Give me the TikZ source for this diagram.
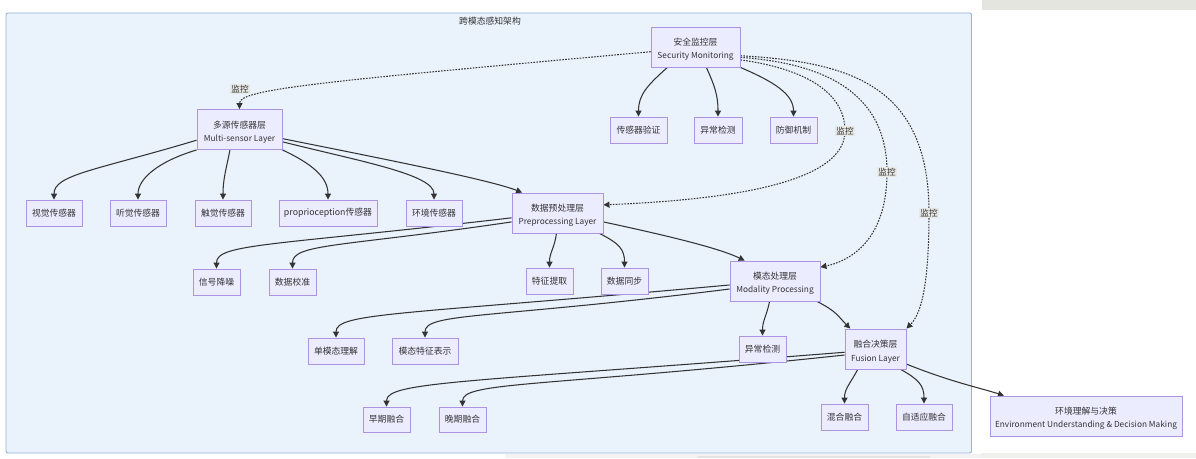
\documentclass[tikz,border=0pt]{standalone}
\usepackage{fontspec}
\setmainfont{Noto Sans CJK SC}
\usetikzlibrary{arrows.meta}
\definecolor{nodefill}{HTML}{ECECFF}
\definecolor{nodeborder}{HTML}{AE93E3}
\definecolor{edgec}{HTML}{333333}
\definecolor{txt}{HTML}{333333}
\definecolor{clfill}{HTML}{EAF2FC}
\definecolor{clborder}{HTML}{93B4D8}
\definecolor{labbg}{HTML}{E8E8E5}
\definecolor{stripc}{HTML}{E5E5E0}
\newcommand{\en}[1]{{\fontsize{8.3}{12}\selectfont #1}}
\newcommand{\topstrut}{\rule{0pt}{12.5pt}}
\pgfdeclarelayer{bglayer}
\pgfdeclarelayer{edgelayer}
\pgfsetlayers{bglayer,edgelayer,main}
\begin{document}
\begin{tikzpicture}[x=1pt,y=-1pt,
  box/.style={draw=nodeborder, fill=nodefill, line width=0.9pt, minimum height=26pt,
    inner sep=0pt, font=\fontsize{8.8}{12}\selectfont, text=txt, align=center},
  bw/.style={minimum width=#1},
  twol/.style={minimum height=40pt},
  conn/.style={draw=edgec, line width=1.05pt, -{Triangle[width=6pt,length=6pt]}},
  mon/.style={conn, dash pattern=on 1.6pt off 1.3pt},
  lab/.style={fill=labbg, inner sep=1.2pt, font=\fontsize{8.6}{10}\selectfont, text=txt}]
\useasboundingbox (0,0) rectangle (1196,458);
\begin{pgfonlayer}{bglayer}
\fill[white] (0,0) rectangle (1196,458);
\fill[stripc] (982,0) rectangle (1196,10);
\fill[stripc!60!white] (982,453) rectangle (1196,458);
\fill[black!5] (505,454) rectangle (982,458);
\fill[black!11] (698,456) rectangle (930,458);
\draw[fill=clfill, draw=clborder, line width=0.9pt, rounded corners=2pt] (6,13) rectangle (971.5,453);
\end{pgfonlayer}
\node[font=\fontsize{8.8}{10}\selectfont, text=txt] (title) at (490,21) {跨模态感知架构};

% nodes
\node[box,bw=85pt,twol] (ms) at (239.5,129.5) {\topstrut 多源传感器层\\[1.5pt]\en{Multi-sensor Layer}};
\node[box,bw=56pt] (vis) at (54,213) {视觉传感器};
\node[box,bw=56pt] (aud) at (138,213) {听觉传感器};
\node[box,bw=56pt] (tac) at (223,213) {触觉传感器};
\node[box,bw=98pt] (pro) at (328,213) {proprioception传感器};
\node[box,bw=56pt] (env) at (434,213) {环境传感器};
\node[box,bw=91pt,twol] (pre) at (557.5,213) {\topstrut 数据预处理层\\[1.5pt]\en{Preprocessing Layer}};
\node[box,bw=89pt,twol] (sec) at (695.5,47) {\topstrut 安全监控层\\[1.5pt]\en{Security Monitoring}};
\node[box,bw=57pt] (sv) at (638.5,130) {传感器验证};
\node[box,bw=48pt] (ad1) at (718,130) {异常检测};
\node[box,bw=47pt] (def) at (793.5,130) {防御机制};
\node[box,bw=47pt] (sn) at (216.5,282) {信号降噪};
\node[box,bw=47pt] (dc) at (292.5,282) {数据校准};
\node[box,bw=47pt] (fe) at (549.5,281) {特征提取};
\node[box,bw=47pt] (ds) at (624.5,281) {数据同步};
\node[box,bw=90pt,twol] (mod) at (775,281) {\topstrut 模态处理层\\[1.5pt]\en{Modality Processing}};
\node[box,bw=56pt] (sm) at (336,351) {单模态理解};
\node[box,bw=66pt] (mf) at (425,351) {模态特征表示};
\node[box,bw=47pt] (ad2) at (762.5,349) {异常检测};
\node[box,bw=61pt,twol] (fu) at (875.5,349) {\topstrut 融合决策层\\[1.5pt]\en{Fusion Layer}};
\node[box,bw=47pt,minimum height=25pt] (ef) at (386.5,419.5) {早期融合};
\node[box,bw=47pt,minimum height=25pt] (lf) at (462.5,419.5) {晚期融合};
\node[box,bw=47pt] (mix) at (844.5,417) {混合融合};
\node[box,bw=56pt] (ada) at (924,417) {自适应融合};
\node[box,bw=192pt,twol] (out) at (1086,416) {\topstrut 环境理解与决策\\[1.5pt]\en{Environment Understanding \& Decision Making}};

% label positions
\coordinate (l0) at (240,89);
\coordinate (l1) at (845,131);
\coordinate (l2) at (887,172);
\coordinate (l3) at (929,213);

\begin{pgfonlayer}{edgelayer}
% multi-sensor layer
\draw[conn] (ms.194) .. controls +(-100,30) and +(0,-25) .. (vis.north);
\draw[conn] (ms.south west) .. controls +(-40,12) and +(0,-20) .. (aud.north);
\draw[conn] (ms.-115) .. controls +(-4,20) and +(0,-20) .. (tac.north);
\draw[conn] (ms.south east) .. controls +(30,14) and +(0,-22) .. (pro.north);
\draw[conn] (ms.-16) .. controls +(80,20) and +(0,-25) .. (env.north);
\draw[conn] (ms.-12) .. controls +(110,22) and +(-30,-12) .. (pre.150);
% security
\draw[conn] (sec.216) .. controls +(-20,18) and +(0,-22) .. (sv.north);
\draw[conn] (sec.-62) .. controls +(8,18) and +(0,-22) .. (ad1.north);
\draw[conn] (sec.south east) .. controls +(35,15) and +(0,-22) .. (def.north);
\draw[mon] (sec.186) .. controls +(-330,30) and +(0,-20) .. (ms.north);
\draw[mon] (sec.-16) .. controls (800,68) and (845,90) .. (l1) .. controls (845,185) and (720,200) .. (pre.10);
\draw[mon] (sec.-13) .. controls (820,63) and (887,90) .. (l2) .. controls (887,245) and (845,262) .. (mod.17);
\draw[mon] (sec.-11) .. controls (850,62) and (929,85) .. (l3) .. controls (929,290) and (920,315) .. (fu.north east);
% preprocessing
\draw[conn] (pre.186) .. controls +(-240,28) and +(0,-25) .. (sn.north);
\draw[conn] (pre.191) .. controls +(-170,25) and +(0,-25) .. (dc.north);
\draw[conn] (pre.-93) .. controls +(-2,15) and +(0,-15) .. (fe.north);
\draw[conn] (pre.-26) .. controls +(20,10) and +(0,-18) .. (ds.north);
\draw[conn] (pre.-11) .. controls +(70,15) and +(-25,-12) .. (mod.146);
% modality
\draw[conn] (mod.185) .. controls +(-330,30) and +(0,-25) .. (sm.north);
\draw[conn] (mod.190) .. controls +(-240,30) and +(0,-25) .. (mf.north);
\draw[conn] (mod.-105) .. controls +(-3,15) and +(0,-15) .. (ad2.north);
\draw[conn] (mod.-26) .. controls +(20,10) and +(-12,-12) .. (fu.141);
% fusion
\draw[conn] (fu.186) .. controls +(-380,30) and +(0,-25) .. (ef.north);
\draw[conn] (fu.191) .. controls +(-300,32) and +(0,-25) .. (lf.north);
\draw[conn] (fu.-131) .. controls +(-8,15) and +(0,-15) .. (mix.north);
\draw[conn] (fu.-39) .. controls +(18,10) and +(0,-18) .. (ada.north);
\draw[conn] (fu.-26) .. controls +(45,18) and +(-25,-8) .. (out.166);
\end{pgfonlayer}

% edge labels
\node[lab] (t0) at (l0) {监控};
\node[lab] (t1) at (l1) {监控};
\node[lab] (t2) at (l2) {监控};
\node[lab] (t3) at (l3) {监控};
\end{tikzpicture}
\end{document}
